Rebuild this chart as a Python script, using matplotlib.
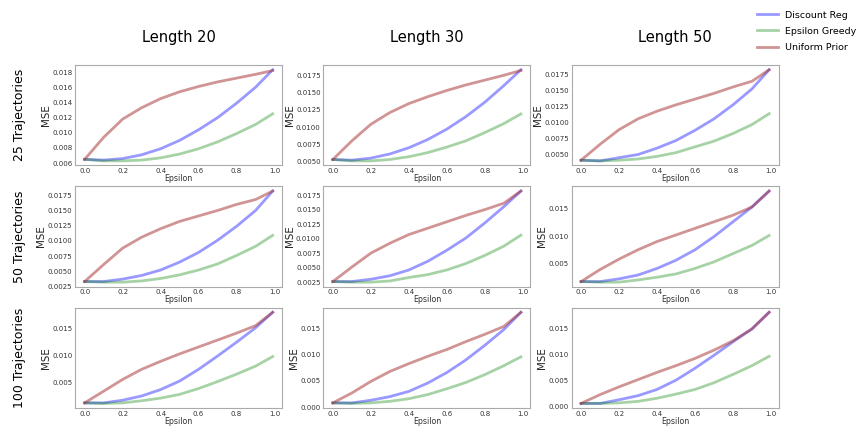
import numpy as np
import matplotlib
matplotlib.use("Agg")
import matplotlib.pyplot as plt

# epsilon values used in the sweep
epsilon = [0.0, 0.1, 0.2, 0.3, 0.4, 0.5, 0.6, 0.7, 0.8, 0.9, 0.99]

lengths = ["Length 20", "Length 30", "Length 50"]
trajectories = ["25 Trajectories", "50 Trajectories", "100 Trajectories"]
methods = ["Discount Reg", "Epsilon Greedy", "Uniform Prior"]

# MSE curves, one list per (trajectories, length) cell
discount_reg = [
    [[0.0065, 0.0064, 0.0066, 0.0071, 0.0079, 0.0090, 0.0104, 0.0120, 0.0139, 0.0160, 0.0183],
     [0.0053, 0.0052, 0.0055, 0.0061, 0.0070, 0.0082, 0.0097, 0.0115, 0.0136, 0.0160, 0.0183],
     [0.0041, 0.0040, 0.0045, 0.0050, 0.0060, 0.0072, 0.0088, 0.0106, 0.0128, 0.0153, 0.0183]],
    [[0.0033, 0.0033, 0.0037, 0.0043, 0.0052, 0.0065, 0.0081, 0.0101, 0.0124, 0.0150, 0.0182],
     [0.0026, 0.0026, 0.0030, 0.0036, 0.0046, 0.0061, 0.0080, 0.0101, 0.0127, 0.0155, 0.0182],
     [0.0017, 0.0017, 0.0022, 0.0029, 0.0041, 0.0056, 0.0075, 0.0099, 0.0126, 0.0153, 0.0182]],
    [[0.0011, 0.0011, 0.0016, 0.0024, 0.0036, 0.0052, 0.0074, 0.0099, 0.0125, 0.0152, 0.0181],
     [0.0008, 0.0008, 0.0013, 0.0020, 0.0030, 0.0046, 0.0066, 0.0090, 0.0118, 0.0148, 0.0181],
     [0.0006, 0.0006, 0.0013, 0.0021, 0.0033, 0.0051, 0.0074, 0.0099, 0.0125, 0.0150, 0.0182]],
]
epsilon_greedy = [
    [[0.0065, 0.0063, 0.0063, 0.0064, 0.0067, 0.0072, 0.0079, 0.0088, 0.0099, 0.0111, 0.0125],
     [0.0053, 0.0051, 0.0051, 0.0053, 0.0057, 0.0063, 0.0071, 0.0080, 0.0092, 0.0105, 0.0119],
     [0.0041, 0.0040, 0.0041, 0.0043, 0.0047, 0.0053, 0.0062, 0.0071, 0.0083, 0.0097, 0.0114]],
    [[0.0033, 0.0032, 0.0032, 0.0034, 0.0038, 0.0044, 0.0052, 0.0062, 0.0076, 0.0091, 0.0109],
     [0.0026, 0.0025, 0.0025, 0.0027, 0.0033, 0.0038, 0.0046, 0.0057, 0.0071, 0.0087, 0.0106],
     [0.0017, 0.0016, 0.0016, 0.0020, 0.0025, 0.0031, 0.0041, 0.0053, 0.0068, 0.0083, 0.0101]],
    [[0.0011, 0.0010, 0.0011, 0.0015, 0.0020, 0.0027, 0.0038, 0.0051, 0.0065, 0.0080, 0.0098],
     [0.0008, 0.0007, 0.0008, 0.0011, 0.0016, 0.0024, 0.0035, 0.0047, 0.0062, 0.0079, 0.0096],
     [0.0006, 0.0006, 0.0007, 0.0010, 0.0016, 0.0024, 0.0033, 0.0046, 0.0062, 0.0079, 0.0097]],
]
uniform_prior = [
    [[0.0065, 0.0094, 0.0118, 0.0133, 0.0145, 0.0154, 0.0161, 0.0167, 0.0172, 0.0177, 0.0182],
     [0.0053, 0.0080, 0.0104, 0.0121, 0.0134, 0.0144, 0.0153, 0.0161, 0.0168, 0.0175, 0.0182],
     [0.0041, 0.0066, 0.0089, 0.0106, 0.0118, 0.0128, 0.0137, 0.0146, 0.0156, 0.0165, 0.0183]],
    [[0.0033, 0.0061, 0.0088, 0.0106, 0.0120, 0.0132, 0.0141, 0.0150, 0.0160, 0.0168, 0.0182],
     [0.0026, 0.0051, 0.0075, 0.0092, 0.0107, 0.0118, 0.0129, 0.0140, 0.0150, 0.0161, 0.0182],
     [0.0017, 0.0039, 0.0058, 0.0075, 0.0090, 0.0102, 0.0114, 0.0126, 0.0138, 0.0153, 0.0182]],
    [[0.0011, 0.0033, 0.0055, 0.0074, 0.0089, 0.0103, 0.0116, 0.0129, 0.0142, 0.0156, 0.0181],
     [0.0008, 0.0027, 0.0049, 0.0068, 0.0083, 0.0097, 0.0110, 0.0125, 0.0139, 0.0154, 0.0181],
     [0.0006, 0.0023, 0.0038, 0.0052, 0.0066, 0.0079, 0.0093, 0.0109, 0.0127, 0.0150, 0.0182]],
]

# colours and transparency for each method
colors = ["blue", "green", "brown"]
alphas = [0.4, 0.35, 0.5]

fig, axes = plt.subplots(3, 3, figsize=(8.65, 4.29), dpi=100)
fig.subplots_adjust(left=0.087, right=0.9, top=0.848, bottom=0.049,
                    wspace=0.2, hspace=0.21)

for r in range(3):
    for c in range(3):
        ax = axes[r, c]
        series = [discount_reg[r][c], epsilon_greedy[r][c], uniform_prior[r][c]]
        for s, name, col, a in zip(series, methods, colors, alphas):
            ax.plot(epsilon, s, color=col, alpha=a, lw=2, label=name)
        ax.set_xticks([0.0, 0.2, 0.4, 0.6, 0.8, 1.0])
        ax.tick_params(labelsize=5, length=0, pad=2, colors="#333333")
        ax.set_xlabel("Epsilon", fontsize=5.7, labelpad=0, color="#333333")
        ax.set_ylabel("MSE", fontsize=7.4, labelpad=1, color="#222222")
        for sp in ax.spines.values():
            sp.set_color("#aaaaaa")
            sp.set_linewidth(0.8)
        if r == 0:
            ax.text(0.5, 1.2, lengths[c], transform=ax.transAxes,
                    ha="center", va="bottom", fontsize=10.5)
        if c == 0:
            ax.text(-0.27, 0.5, trajectories[r], transform=ax.transAxes,
                    ha="center", va="center", rotation=90, fontsize=9)

handles, labels = axes[0, 0].get_legend_handles_labels()
fig.legend(handles, labels, loc="upper right", bbox_to_anchor=(1.0, 0.995),
           frameon=False, fontsize=6.8, handlelength=2.2, labelspacing=0.75)

plt.savefig("out.png", dpi=100)
